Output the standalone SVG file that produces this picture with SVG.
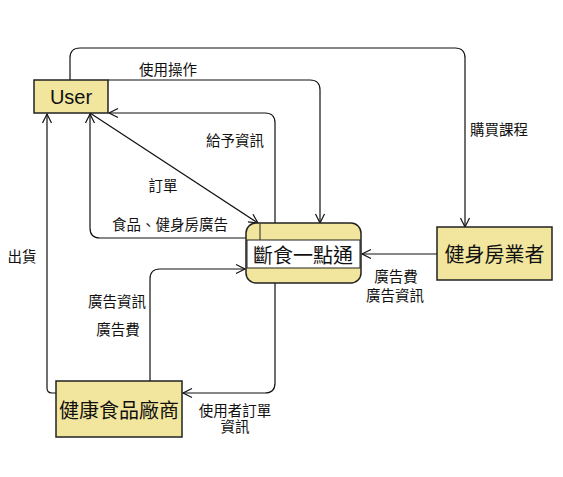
<svg xmlns="http://www.w3.org/2000/svg" width="563" height="477" viewBox="0 0 563 477">
  <style>
    .box { fill: #f2e69e; stroke: #222; stroke-width: 1.5; }
    .edge { fill: none; stroke: #111; stroke-width: 1.2; marker-end: url(#open); }
    .lbl { font-family: "Noto Sans CJK TC", "Noto Sans CJK SC", sans-serif; font-size: 14.5px; fill: #111; text-anchor: middle; dominant-baseline: central; }
    .big { font-family: "Noto Sans CJK TC", "Noto Sans CJK SC", sans-serif; font-size: 20px; fill: #111; text-anchor: middle; dominant-baseline: central; }
  </style>
  <defs>
    <marker id="open" markerUnits="userSpaceOnUse" markerWidth="12" markerHeight="12" viewBox="-10 -6 12 12" refX="0" refY="0" orient="auto">
      <path d="M -9 -4.5 L 0 0 L -9 4.5" fill="none" stroke="#111" stroke-width="1.2"/>
    </marker>
  </defs>
  <rect width="563" height="477" fill="#ffffff"/>

  <g id="connectors">
    <!-- 使用操作 -->
    <path class="edge" d="M 108 80 H 310 Q 320 80 320 90 V 223"/>
    <!-- 購買課程 -->
    <path class="edge" d="M 70 80 V 58 Q 70 48 80 48 H 455 Q 465 48 465 58 V 227"/>
    <!-- 給予資訊 -->
    <path class="edge" d="M 275 223 V 123 Q 275 113 265 113 H 109"/>
    <!-- 訂單 -->
    <path class="edge" d="M 90 113 L 258 223"/>
    <!-- 食品、健身房廣告 -->
    <path class="edge" d="M 246 238 H 100 Q 90 238 90 228 V 114"/>
    <!-- 出貨 -->
    <path class="edge" d="M 56 393 H 52 Q 47 393 47 388 V 114"/>
    <!-- 廣告資訊 / 廣告費 from 健康食品廠商 -->
    <path class="edge" d="M 150 381 V 279 Q 150 269 160 269 H 245"/>
    <!-- 使用者訂單資訊 -->
    <path class="edge" d="M 275 283 V 383 Q 275 393 265 393 H 183"/>
    <!-- 廣告費 / 廣告資訊 from 健身房業者 -->
    <path class="edge" d="M 437 254 H 362"/>
  </g>

  <g id="labels">
    <text class="lbl" x="168" y="68">使用操作</text>
    <text class="lbl" x="499" y="128">購買課程</text>
    <text class="lbl" x="235" y="139">給予資訊</text>
    <text class="lbl" x="163" y="184">訂單</text>
    <text class="lbl" x="170" y="223">食品、健身房廣告</text>
    <text class="lbl" x="22" y="255">出貨</text>
    <text class="lbl" x="117" y="300">廣告資訊</text>
    <text class="lbl" x="118" y="328">廣告費</text>
    <text class="lbl" x="396" y="275">廣告費</text>
    <text class="lbl" x="395" y="294">廣告資訊</text>
    <text class="lbl" x="235" y="409"><tspan x="235" y="409">使用者訂單</tspan><tspan x="235" y="425">資訊</tspan></text>
  </g>

  <g id="user">
    <rect class="box" x="34" y="80" width="74" height="33"/>
    <text x="71" y="97" font-family="Liberation Sans, Arial, sans-serif" font-size="20" fill="#111" text-anchor="middle" dominant-baseline="central">User</text>
  </g>

  <g id="main-process">
    <rect class="box" x="246" y="223" width="115" height="60" rx="10" ry="10"/>
    <rect x="247" y="240" width="113" height="28" fill="#ffffff" stroke="#222" stroke-width="1"/>
    <line x1="260" y1="223.8" x2="260" y2="240" stroke="#222" stroke-width="1"/>
    <text class="big" x="303" y="254">斷食一點通</text>
  </g>

  <g id="gym">
    <rect class="box" x="437" y="227" width="115" height="53"/>
    <text class="big" x="494.5" y="253.5">健身房業者</text>
  </g>

  <g id="food-vendor">
    <rect class="box" x="56" y="381" width="126" height="56"/>
    <text class="big" x="119" y="409">健康食品廠商</text>
  </g>
</svg>
